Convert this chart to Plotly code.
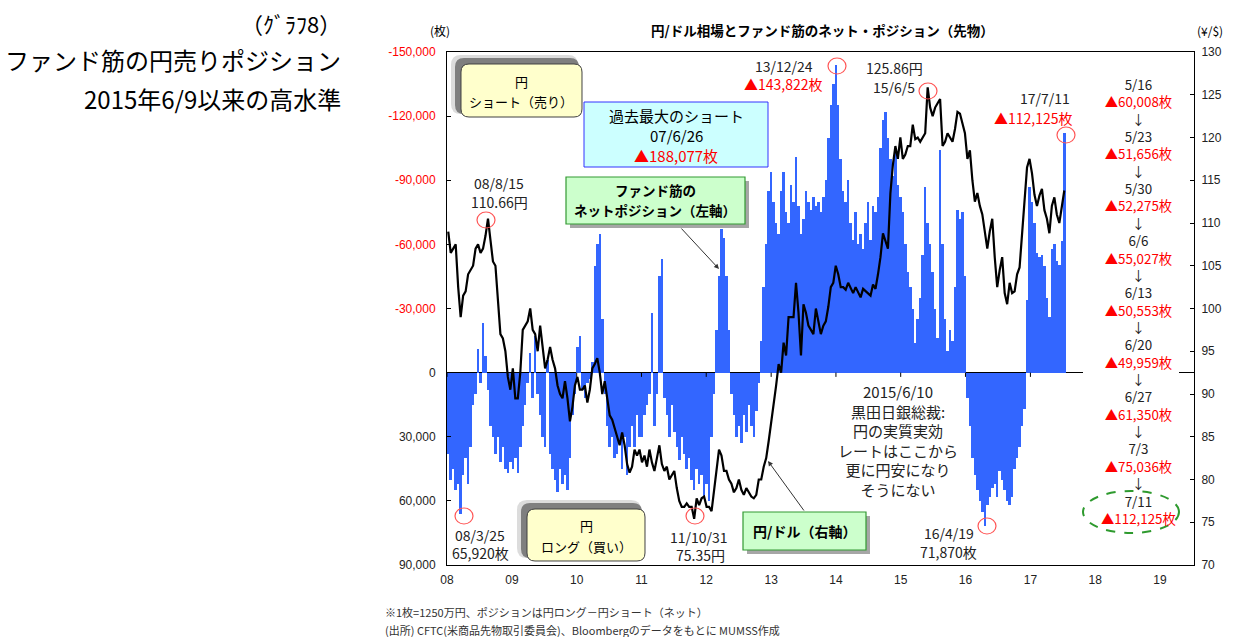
import plotly.graph_objects as go
import pandas as pd

# ---------------- data ----------------
dates = pd.date_range("2008-01-08", "2017-07-11", freq="14D")

# net position of funds in JPY futures (thousand contracts; negative = yen short)
net_2008 = [38, 50, 45, 55, 52, 66, 48, 40, 52, 35, 15, 10, -11, 5, -23, -8, 8, 25, 30, 38, 30, 42, 35, 45, 47, 42]
net_2009 = [45, 40, 47, 35, 25, 15, 5, -9, 12, -17, 10, 20, 30, 35, -6, 38, 45, 50, 56, 45, 52, 48, 55, 40, 20, 10]
net_2010 = [-12, -17, 8, 12, 5, 3, -5, -50, -60, -65, -25, 10, 25, 35, 30, 40, 38, 33, 45, 30, 48, 35, 25, 35, 20, 30]
net_2011 = [30, 20, 15, 10, -28, 25, 10, -45, -53, 12, 20, 30, 15, 28, 35, 41, 30, 38, 45, 40, 50, 55, 45, 52, 48, 58]
net_2012 = [52, 60, 30, 10, -20, -45, -67, -63, -45, -20, 10, 20, 30, 25, 33, 20, 28, 15, 25, 30, 18, 5, -15, -40, -60, -85]
net_2013 = [-94, -80, -70, -65, -85, -94, -75, -70, -88, -80, -101, -78, -65, -72, -85, -80, -76, -82, -78, -80,
            -75, -82, -90, -110, -125, -135, -143.822]
net_2014 = [-125, -100, -85, -80, -90, -70, -62, -75, -60, -65, -58, -70, -80, -62, -78, -75, -82, -105, -118, -122,
            -110, -100, -92, -105, -88, -82]
net_2015 = [-75, -60, -47, -40, -30, -14, -25, -35, -55, -87, -70, -60, -47, -30, -16, -104, -60, -25, -10, -20,
            -15, -40, -76, -72, -75, -45]
net_2016 = [12, 25, 40, 48, 55, 60, 65, 71.87, 62, 58, 54, 52, 58, 46, 50, 55, 60, 62, 58, 45, 40, 35, 25, 17, -34, -87]
net_2017 = [-80, -70, -56, -54, -55, -50, -35, -26, -58, -60.008, -52.275, -50.553, -61.35, -112.125]
net_position_k = net_2008 + net_2009 + net_2010 + net_2011 + net_2012 + net_2013 + net_2014 + net_2015 + net_2016 + net_2017

# USD/JPY (yen per dollar)
jpy_2008 = [109.0, 106.5, 107.0, 107.5, 102.5, 99.0, 101.5, 102.0, 104.0, 104.5, 105.0, 107.0, 107.5, 106.5, 107.0,
            108.5, 110.5, 108.0, 105.5, 105.0, 101.0, 97.0, 96.5, 95.0, 92.0, 90.5]
jpy_2009 = [93.0, 89.5, 89.5, 92.5, 97.5, 98.0, 98.5, 100.0, 97.5, 97.0, 95.0, 98.0, 95.5, 93.0, 94.0, 95.5, 94.0,
            93.0, 91.0, 90.0, 89.5, 91.5, 89.5, 86.8, 88.5, 91.0]
jpy_2010 = [92.0, 90.5, 90.5, 91.0, 89.0, 90.5, 93.0, 93.5, 94.2, 92.5, 90.0, 91.5, 89.5, 87.5, 87.0, 86.0, 85.3,
            84.0, 85.5, 84.0, 81.8, 80.8, 81.5, 83.5, 82.8, 83.5]
jpy_2011 = [82.0, 82.8, 81.5, 83.5, 82.0, 81.0, 82.5, 84.0, 81.8, 81.0, 81.5, 80.0, 80.5, 81.0, 79.0, 77.5, 76.8,
            76.8, 77.2, 76.8, 76.8, 75.4, 77.8, 77.0, 77.8, 78.0]
jpy_2012 = [76.8, 76.8, 76.3, 78.5, 81.0, 83.5, 82.8, 81.0, 81.0, 80.0, 79.5, 78.5, 79.0, 80.0, 78.8, 78.2, 79.0,
            78.5, 78.0, 77.8, 78.2, 80.0, 80.0, 81.5, 82.5, 84.5]
jpy_2013 = [86.5, 89.0, 91.0, 93.5, 92.5, 96.0, 94.5, 99.0, 99.0, 99.0, 103.0, 99.5, 94.5, 100.5, 99.5, 98.0, 97.5,
            97.0, 100.0, 98.5, 97.0, 98.0, 98.5, 100.2, 102.5, 103.0, 105.0]
jpy_2014 = [104.0, 102.5, 102.5, 102.2, 103.0, 102.3, 101.8, 102.5, 101.8, 101.3, 102.3, 102.0, 101.7, 101.5, 102.8,
            102.3, 104.0, 106.0, 108.8, 108.0, 107.0, 113.5, 116.8, 119.0, 117.5, 120.0]
jpy_2015 = [117.5, 118.0, 119.0, 119.0, 121.5, 119.8, 120.0, 119.5, 120.0, 120.5, 125.86, 123.5, 122.5, 123.5, 124.0,
            124.5, 119.0, 119.5, 120.5, 120.0, 119.5, 121.0, 123.0, 122.8, 121.5, 120.5]
jpy_2016 = [117.5, 118.5, 115.0, 112.5, 113.5, 112.0, 111.0, 109.0, 107.0, 109.0, 110.5, 106.0, 102.5, 104.5, 106.0,
            101.8, 100.5, 103.0, 101.8, 102.0, 104.0, 104.8, 109.0, 113.5, 116.5, 117.5]
jpy_2017 = [115.8, 113.3, 112.0, 113.2, 114.0, 111.5, 110.5, 108.8, 112.0, 113.0, 111.0, 110.0, 112.0, 113.8]
usdjpy = jpy_2008 + jpy_2009 + jpy_2010 + jpy_2011 + jpy_2012 + jpy_2013 + jpy_2014 + jpy_2015 + jpy_2016 + jpy_2017

year_ticks = [f"{y}-01-01" for y in range(2008, 2020)]
year_labels = ["08", "09", "10", "11", "12", "13", "14", "15", "16", "17", "18", "19"]
left_ticks = [-150000, -120000, -90000, -60000, -30000, 0, 30000, 60000, 90000]
left_labels = ["-150,000", "-120,000", "-90,000", "-60,000", "-30,000", "0", "30,000", "60,000", "90,000"]
right_ticks = [70, 75, 80, 85, 90, 95, 100, 105, 110, 115, 120, 125, 130]

weekly_steps = [("5/16", "▲60,008枚"), ("5/23", "▲51,656枚"), ("5/30", "▲52,275枚"), ("6/6", "▲55,027枚"),
                ("6/13", "▲50,553枚"), ("6/20", "▲49,959枚"), ("6/27", "▲61,350枚"), ("7/3", "▲75,036枚"),
                ("7/11", "▲112,125枚")]

# ---------------- figure ----------------
JP = "Noto Sans CJK JP"
NUM = "Liberation Sans"
RED = "#FF0000"
W, H = 1244, 637
PL, PR, PT, PB = 447, 1194, 52, 565


def fx(x):
    return (x - PL) / (PR - PL)


def fy(y):
    return (PB - y) / (PB - PT)


fig = go.Figure()
fig.add_trace(go.Bar(
    x=dates, y=[v * 1000 for v in net_position_k], yaxis="y",
    marker=dict(color="#3366FF", line=dict(width=0)),
    width=14 * 86400000, name="net"))
fig.add_trace(go.Scatter(
    x=dates, y=usdjpy, yaxis="y2", mode="lines",
    line=dict(color="#000000", width=2.2), name="usdjpy"))

left_text = [f'<span style="color:{RED}">{t}</span>' if v < 0 else t for v, t in zip(left_ticks, left_labels)]

fig.update_layout(
    width=W, height=H,
    margin=dict(l=PL, r=W - PR, t=PT, b=H - PB, pad=0),
    paper_bgcolor="white", plot_bgcolor="white",
    showlegend=False, bargap=0,
    font=dict(family=JP, size=12, color="#000"),
    xaxis=dict(type="date", range=["2008-01-01", "2019-07-12"], tickvals=year_ticks, ticktext=year_labels,
               ticks="", showgrid=False, zeroline=False, showline=True, linecolor="#000", linewidth=1,
               mirror=True, tickfont=dict(family=NUM, size=12, color="#222"), ticklabelstandoff=4),
    yaxis=dict(range=[90000, -150000], tickvals=left_ticks, ticktext=left_text, ticks="inside", ticklen=4,
               tickcolor="#000", showgrid=False, zeroline=True, zerolinecolor="#000", zerolinewidth=1,
               showline=True, linecolor="#000", linewidth=1,
               tickfont=dict(family=NUM, size=12, color="#222"), ticklabelstandoff=8),
    yaxis2=dict(range=[70, 130], tickvals=right_ticks, overlaying="y", side="right", ticks="inside", ticklen=4,
                tickcolor="#000", showgrid=False, zeroline=False, showline=True, linecolor="#000", linewidth=1,
                tickfont=dict(family=NUM, size=12, color="#222"), ticklabelstandoff=4),
)

shapes = []


def P(x, y):
    return f"{fx(x):.5f},{fy(y):.5f}"


def rrect(x0, y0, x1, y1, r):
    return (f"M {P(x0 + r, y0)} L {P(x1 - r, y0)} Q {P(x1, y0)} {P(x1, y0 + r)} "
            f"L {P(x1, y1 - r)} Q {P(x1, y1)} {P(x1 - r, y1)} L {P(x0 + r, y1)} "
            f"Q {P(x0, y1)} {P(x0, y1 - r)} L {P(x0, y0 + r)} Q {P(x0, y0)} {P(x0 + r, y0)} Z")


def add_path(path, fill, line_color=None, lw=0):
    shapes.append(dict(type="path", path=path, xref="paper", yref="paper", layer="above",
                       fillcolor=fill, line=dict(color=line_color or fill, width=lw)))


def add_rect(x0, y0, x1, y1, fill, line_color=None, lw=0):
    shapes.append(dict(type="rect", xref="paper", yref="paper", layer="above",
                       x0=fx(x0), x1=fx(x1), y0=fy(y1), y1=fy(y0),
                       fillcolor=fill, line=dict(color=line_color or fill, width=lw)))


def add_circle(cx, cy, rx, ry, color="#FF4040", lw=1.2, dash="solid"):
    shapes.append(dict(type="circle", xref="paper", yref="paper", layer="above",
                       x0=fx(cx - rx), x1=fx(cx + rx), y0=fy(cy + ry), y1=fy(cy - ry),
                       line=dict(color=color, width=lw, dash=dash)))


# little ticks on zero line at each year
for t in year_ticks:
    shapes.append(dict(type="line", xref="x", yref="y", x0=t, x1=t, y0=0, y1=2000,
                       line=dict(color="#000", width=1)))

# zero line break behind the right-hand column
add_rect(1083, 366, 1179, 380, "white")

# yellow boxes with soft shadow (top-left)
for (x0, y0, x1, y1) in [(461, 64, 582, 117), (527, 509, 645, 561)]:
    add_path(rrect(x0 - 10, y0 - 9, x1 - 4, y1 - 3, 10), "#DCDCDC")
    add_path(rrect(x0 - 6, y0 - 6, x1 - 3, y1 - 3, 9), "#7F7F7F")
    add_path(rrect(x0, y0, x1, y1, 8), "#FFFFCC", "#404040", 1)

# cyan box
add_rect(584, 102, 768, 167, "#CCFFFF", "#3333FF", 1)

# green boxes with shadow (bottom-right)
for (x0, y0, x1, y1) in [(566, 177, 745, 224), (743, 512, 866, 550)]:
    add_rect(x0 + 4, y0 + 4, x1 + 4, y1 + 4, "#A6A6A6")
    add_rect(x0, y0, x1, y1, "#CCFFCC", "#339933", 1.2)

# red highlight circles
for (cx, cy) in [(486, 220), (837, 66), (928, 91), (1066, 135), (464, 516), (695, 516), (987, 526)]:
    add_circle(cx, cy, 9, 8, color="#FF5555")

# dashed green ellipse
add_circle(1131, 512, 48, 21, color="#2E9A2E", lw=2, dash="dash")

fig.update_layout(shapes=shapes)


def txt(x, y, s, size=13, color="#000", xanchor="center", family=JP, yanchor="middle"):
    fig.add_annotation(x=fx(x), y=fy(y), xref="paper", yref="paper", text=s, showarrow=False,
                       xanchor=xanchor, yanchor=yanchor, font=dict(size=size, color=color, family=family))


# left side headline
txt(343, 23, "（ｸﾞﾗﾌ8）", size=22, xanchor="right")
txt(343, 59, "ファンド筋の円売りポジション", size=24, xanchor="right")
txt(343, 98, "2015年6/9以来の高水準", size=24, xanchor="right")

# chart title and axis unit labels
txt(822, 30, "<b>円/ドル相場とファンド筋のネット・ポジション（先物）</b>", size=13.5)
txt(440, 31, "(枚)", size=12)
txt(1210, 31, "(¥/$)", size=12)

# boxes text
txt(521, 81, "円", size=13)
txt(521, 101, "ショート（売り）", size=13)
txt(586, 525, "円", size=13)
txt(586, 546, "ロング（買い）", size=13)
txt(676, 115, "過去最大のショート", size=15)
txt(676, 135, "07/6/26", size=15)
txt(676, 155, "▲188,077枚", size=15, color=RED)
txt(655, 190, "<b>ファンド筋の</b>", size=13.5)
txt(655, 210, "<b>ネットポジション（左軸）</b>", size=13.5)
txt(804, 531, "<b>円/ドル（右軸）</b>", size=14)

# point labels
point_labels = [
    (499, 183, "08/8/15", "#222"), (499, 202, "110.66円", "#222"),
    (784, 66, "13/12/24", "#222"), (783, 84, "▲143,822枚", RED),
    (894, 68, "125.86円", "#222"), (894, 87, "15/6/5", "#222"),
    (1045, 98, "17/7/11", "#222"), (1033, 118, "▲112,125枚", RED),
    (480, 535, "08/3/25", "#222"), (480, 553, "65,920枚", "#222"),
    (699, 537, "11/10/31", "#222"), (700, 555, "75.35円", "#222"),
    (949, 533, "16/4/19", "#222"), (948, 552, "71,870枚", "#222"),
]
for (x, y, s, c) in point_labels:
    txt(x, y, s, size=14, color=c)

# Kuroda comment
txt(898, 440, "2015/6/10<br>黒田日銀総裁:<br>円の実質実効<br>レートはここから<br>更に円安になり<br>そうにない",
    size=15, color="#222")

# right-hand weekly column
lines = []
for i, (d, v) in enumerate(weekly_steps):
    lines.append(d)
    lines.append(f'<span style="color:{RED}">{v}</span>')
    if i < len(weekly_steps) - 1:
        lines.append("↓")
txt(1138, 301, "<br>".join(lines), size=13.35, color="#222")

# arrows
fig.add_annotation(x=fx(719), y=fy(269), xref="paper", yref="paper", ax=680 - 719, ay=227 - 269,
                   showarrow=True, arrowhead=2, arrowsize=1, arrowwidth=1, arrowcolor="#333", text="")
fig.add_annotation(x=fx(768), y=fy(461), xref="paper", yref="paper", ax=805 - 768, ay=512 - 461,
                   showarrow=True, arrowhead=2, arrowsize=1, arrowwidth=1, arrowcolor="#333", text="")

# footnotes
txt(383, 612, "※1枚=1250万円、ポジションは円ロング－円ショート（ネット）", size=11, color="#333", xanchor="left")
txt(383, 630, "(出所) CFTC(米商品先物取引委員会)、Bloombergのデータをもとに MUMSS作成", size=11, color="#333",
    xanchor="left")

fig.write_html("out.html")
